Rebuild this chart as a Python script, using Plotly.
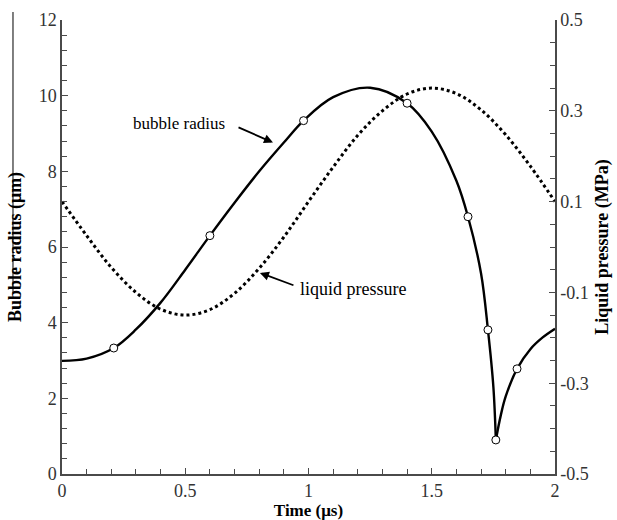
import plotly.graph_objects as go

# ---- data ----
t_fall = [0.0, 0.1, 0.21, 0.3, 0.4, 0.5, 0.6, 0.7, 0.8, 0.9, 0.98, 1.1, 1.25, 1.4, 1.5, 1.6, 1.647, 1.7, 1.728, 1.75, 1.76]
r_fall = [2.99, 3.05, 3.33, 3.82, 4.53, 5.40, 6.30, 7.17, 8.00, 8.76, 9.34, 9.96, 10.21, 9.80, 9.05, 7.75, 6.80, 5.30, 3.81, 2.30, 0.90]
t_rise = [1.76, 1.78, 1.8, 1.846, 1.9, 1.95, 2.0]
r_rise = [0.90, 1.55, 2.05, 2.78, 3.30, 3.61, 3.84]

t_marks = [0.21, 0.60, 0.98, 1.40, 1.647, 1.728, 1.76, 1.846]
r_marks = [3.33, 6.30, 9.34, 9.80, 6.80, 3.81, 0.90, 2.78]

t_press = [0.0, 0.1, 0.2, 0.3, 0.4, 0.5, 0.6, 0.7, 0.8, 0.9, 1.0,
           1.1, 1.2, 1.3, 1.4, 1.5, 1.6, 1.7, 1.8, 1.9, 2.0]
p_press = [0.100, 0.025, -0.045, -0.100, -0.137, -0.150, -0.138, -0.102, -0.047, 0.022, 0.100,
           0.176, 0.246, 0.300, 0.337, 0.350, 0.338, 0.302, 0.247, 0.178, 0.100]

x_ticks = [0, 0.5, 1, 1.5, 2]
x_ticktext = ["0", "0.5", "1", "1.5", "2"]
y_ticks = [0, 2, 4, 6, 8, 10, 12]
y_ticktext = ["0", "2", "4", "6", "8", "10", "12"]
y2_ticks = [-0.5, -0.3, -0.1, 0.1, 0.3, 0.5]
y2_ticktext = ["-0.5", "-0.3", "-0.1", "0.1", "0.3", "0.5"]

FONT = "Liberation Serif, Times New Roman, serif"
AX = "#4a4a4a"

fig = go.Figure()
fig.add_trace(go.Scatter(x=t_press, y=p_press, yaxis="y2", mode="lines",
                         line=dict(color="black", width=3, dash="dot", shape="spline", smoothing=1),
                         showlegend=False, hoverinfo="skip"))
fig.add_trace(go.Scatter(x=t_fall, y=r_fall, mode="lines",
                         line=dict(color="black", width=2.4, shape="spline", smoothing=1),
                         showlegend=False))
fig.add_trace(go.Scatter(x=t_rise, y=r_rise, mode="lines",
                         line=dict(color="black", width=2.4, shape="spline", smoothing=1),
                         showlegend=False))
fig.add_trace(go.Scatter(x=t_marks, y=r_marks, mode="markers",
                         marker=dict(symbol="circle", size=8, color="white",
                                     line=dict(color="black", width=1)),
                         showlegend=False))

axis_common = dict(showgrid=False, zeroline=False, showline=True, linecolor=AX, linewidth=1.5,
                   ticks="inside", tickcolor=AX, ticklen=6, tickwidth=1.2, automargin=False,
                   tickfont=dict(family=FONT, size=18, color="#333"))

fig.update_layout(
    width=617, height=520,
    margin=dict(l=62, r=62, t=20, b=46),
    paper_bgcolor="white", plot_bgcolor="white",
    font=dict(family=FONT, color="black"),
    xaxis=dict(range=[0, 2], tickvals=x_ticks, ticktext=x_ticktext,
               minor=dict(dtick=0.1, tick0=0, ticks="inside", ticklen=5, tickcolor=AX, tickwidth=1.2),
               title=dict(text="<b>Time (μs)</b>", font=dict(family=FONT, size=17), standoff=5),
               **axis_common),
    yaxis=dict(range=[0, 12], tickvals=y_ticks, ticktext=y_ticktext,
               minor=dict(dtick=0.4, tick0=0, ticks="inside", ticklen=5, tickcolor=AX, tickwidth=1.2),
               title=dict(text="<b>Bubble radius (μm)</b>", font=dict(family=FONT, size=18), standoff=12),
               **axis_common),
    yaxis2=dict(range=[-0.5, 0.5], overlaying="y", side="right", tickvals=y2_ticks, ticktext=y2_ticktext,
                minor=dict(dtick=0.05, tick0=0.1, ticks="inside", ticklen=5, tickcolor=AX, tickwidth=1.2),
                title=dict(text="<b>Liquid pressure (MPa)</b>", font=dict(family=FONT, size=18), standoff=8),
                **axis_common),
)

# annotations
fig.add_annotation(x=0.856, y=8.76, ax=0.71, ay=9.18, xref="x", yref="y", axref="x", ayref="y",
                   text="", showarrow=True, arrowhead=2, arrowsize=1, arrowwidth=1.8, arrowcolor="black")
fig.add_annotation(x=0.67, y=9.27, xref="x", yref="y", text="bubble radius", showarrow=False,
                   xanchor="right", yanchor="middle", font=dict(family=FONT, size=17, color="black"))
fig.add_annotation(x=0.803, y=-0.057, ax=0.945, ay=-0.0855, xref="x", yref="y2", axref="x", ayref="y2",
                   text="", showarrow=True, arrowhead=2, arrowsize=1, arrowwidth=1.8, arrowcolor="black")
fig.add_annotation(x=0.957, y=-0.0915, xref="x", yref="y2", text="liquid pressure", showarrow=False,
                   xanchor="left", yanchor="middle", font=dict(family=FONT, size=18, color="black"))

# stray vertical line next to the left axis title
fig.add_shape(type="line", xref="paper", yref="paper", x0=-0.0994, x1=-0.0994, y0=1.0176, y1=0.3987,
              line=dict(color="black", width=1))

fig.write_html("out.html")
